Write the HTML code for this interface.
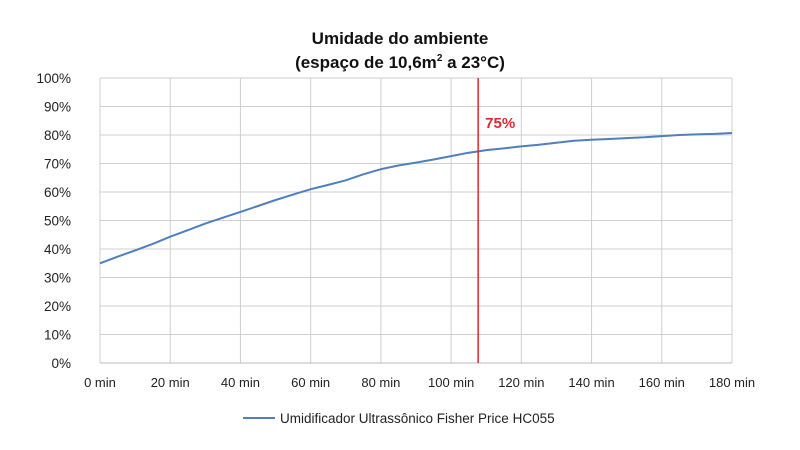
<!DOCTYPE html>
<html><head><meta charset="utf-8"><style>
body{margin:0;background:#fff;}
svg{display:block;font-family:"Liberation Sans",sans-serif;}
</style></head><body>
<svg id="chart" width="800" height="450">
<text x="400" y="44" text-anchor="middle" font-size="17" font-weight="bold" fill="#111">Umidade do ambiente</text>
<text x="400" y="68" text-anchor="middle" font-size="17" font-weight="bold" fill="#111">(espaço de 10,6m<tspan font-size="10" dy="-7">2</tspan><tspan dy="7"> a 23°C)</tspan></text>
<g id="grid"></g><g id="yticks"></g><g id="xticks"></g><g id="marks"></g>
<line x1="243" y1="418" x2="275" y2="418" stroke="#4f7fbd" stroke-width="2"/>
<text x="280" y="423" font-size="13.5" fill="#222">Umidificador Ultrassônico Fisher Price HC055</text>
</svg>
<script>
const xTicks=[0,20,40,60,80,100,120,140,160,180];
const yTicks=[0,10,20,30,40,50,60,70,80,90,100];
const times=[0,5,10,15,20,25,30,35,40,45,50,55,60,65,70,75,80,85,90,95,100,105,108,110,115,120,125,130,135,140,145,150,155,160,165,170,175,180];
const humidity=[35,37.3,39.5,41.8,44.3,46.6,48.9,51,53,55.1,57.2,59.1,61,62.5,64.1,66.2,68,69.3,70.3,71.4,72.6,73.8,74.3,74.7,75.3,76,76.6,77.3,78,78.3,78.6,78.9,79.2,79.6,80,80.2,80.4,80.7];
const markerTime=107.7, markerLabel="75%";
const L=100,R=732,T=78,B=363;
const xs=v=>L+v/180*(R-L);
const ys=v=>B-v/100*(B-T);
const NS="http://www.w3.org/2000/svg";
function mk(p,t,a){const e=document.createElementNS(NS,t);for(const k in a)e.setAttribute(k,a[k]);p.appendChild(e);return e;}
const grid=document.getElementById('grid'),yt=document.getElementById('yticks'),xt=document.getElementById('xticks'),marks=document.getElementById('marks');
yTicks.forEach(v=>{const l=mk(grid,'line',{x1:L,x2:R,y1:ys(v),y2:ys(v),stroke:'#cfcfcf','stroke-width':1});


const t=mk(yt,'text',{x:71,y:ys(v)+5,'text-anchor':'end','font-size':13.5,fill:'#222'});t.textContent=v+'%';

});
xTicks.forEach(v=>{const l=mk(grid,'line',{x1:xs(v),x2:xs(v),y1:T,y2:B,stroke:'#cfcfcf','stroke-width':1});


const t=mk(xt,'text',{x:xs(v),y:387,'text-anchor':'middle','font-size':13,fill:'#222'});t.textContent=v+' min';

});
const ax=mk(grid,'line',{x1:L,x2:R,y1:B,y2:B,stroke:'#bbb','stroke-width':1});


const d=times.map((t,i)=>(i?'L':'M')+xs(t).toFixed(1)+','+ys(humidity[i]).toFixed(1)).join(' ');
const p=mk(marks,'path',{d:d,fill:'none',stroke:'#4f7fbd','stroke-width':2,'stroke-linejoin':'round'});


const m=mk(marks,'line',{x1:xs(markerTime),x2:xs(markerTime),y1:T,y2:B,stroke:'#e0282c','stroke-width':1.5});


const ml=mk(marks,'text',{x:xs(markerTime)+7,y:128,'font-size':15,'font-weight':'bold',fill:'#e0282c'});ml.textContent=markerLabel;


</script>
</body></html>
